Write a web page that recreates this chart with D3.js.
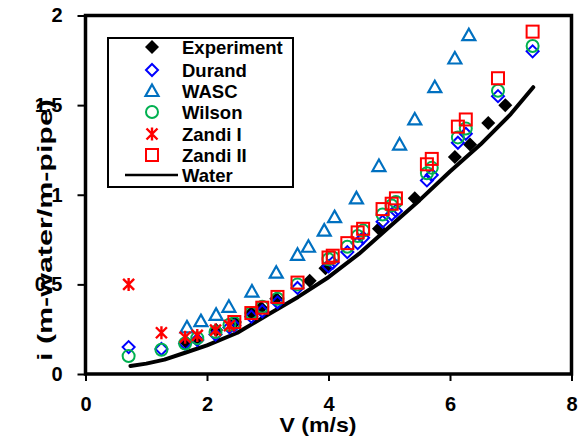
<!DOCTYPE html>
<html><head><meta charset="utf-8">
<script src="https://cdn.jsdelivr.net/npm/d3@7"></script>
<style>
body{margin:0;background:#fff;}
svg text{font-family:"Liberation Sans",Arial,sans-serif;font-weight:bold;fill:#000;}
</style></head>
<body><svg id="c" width="579" height="445"></svg>
<script>
// ---- data ----
const xTicks = [0, 2, 4, 6, 8];
const yTicks = [0, 0.5, 1, 1.5, 2];

const expV = [1.65, 1.84, 2.15, 2.46, 2.73, 2.89, 3.14, 3.69, 3.95, 4.83, 5.42, 6.08, 6.33, 6.63, 6.91];
const expI = [0.18, 0.19, 0.245, 0.29, 0.34, 0.37, 0.42, 0.52, 0.59, 0.81, 0.98, 1.21, 1.28, 1.40, 1.50];

const modelV = [0.71, 1.25, 1.64, 1.84, 2.14, 2.37, 2.45, 2.73, 2.91, 3.16, 3.49, 4.0, 4.07, 4.31, 4.48, 4.57, 4.89, 5.04, 5.11, 5.62, 5.70, 6.13, 6.26, 6.79, 7.36];
const durandI = [0.15, 0.14, 0.17, 0.19, 0.22, 0.26, 0.27, 0.32, 0.35, 0.40, 0.48, 0.60, 0.62, 0.68, 0.73, 0.76, 0.85, 0.89, 0.91, 1.08, 1.11, 1.29, 1.34, 1.55, 1.80];
const wilsonI = [0.10, 0.135, 0.17, 0.20, 0.235, 0.275, 0.285, 0.34, 0.375, 0.42, 0.50, 0.64, 0.65, 0.71, 0.77, 0.80, 0.89, 0.94, 0.96, 1.12, 1.15, 1.32, 1.37, 1.58, 1.83];

const wascV = [1.67, 1.9, 2.15, 2.36, 2.74, 3.14, 3.49, 3.67, 3.93, 4.1, 4.46, 4.83, 5.17, 5.42, 5.75, 6.08, 6.31];
const wascI = [0.26, 0.295, 0.33, 0.375, 0.46, 0.565, 0.665, 0.71, 0.80, 0.875, 0.98, 1.16, 1.28, 1.42, 1.60, 1.76, 1.89];

const zandi1V = [0.71, 1.25, 1.64, 1.84, 2.14, 2.37];
const zandi1I = [0.50, 0.23, 0.205, 0.215, 0.245, 0.27];

const zandi2V = [2.45, 2.73, 2.91, 3.16, 3.49, 4.0, 4.07, 4.31, 4.48, 4.57, 4.89, 5.04, 5.11, 5.62, 5.70, 6.13, 6.26, 6.79, 7.36];
const zandi2I = [0.29, 0.34, 0.37, 0.43, 0.51, 0.65, 0.66, 0.73, 0.79, 0.81, 0.92, 0.95, 0.98, 1.17, 1.20, 1.38, 1.42, 1.65, 1.91];

const waterV = [0.74, 1.0, 1.3, 1.65, 2.0, 2.5, 3.0, 3.5, 4.0, 4.5, 5.0, 5.5, 6.0, 6.5, 7.0, 7.37];
const waterI = [0.045, 0.058, 0.08, 0.12, 0.16, 0.23, 0.33, 0.43, 0.54, 0.67, 0.82, 0.97, 1.13, 1.28, 1.45, 1.60];

const legendLabels = ["Experiment", "Durand", "WASC", "Wilson", "Zandi I", "Zandi II", "Water"];

// ---- chart ----
const svg = d3.select("#c");
const L = 85.5, R = 571.5, T = 15.5, B = 374;
const x = d3.scaleLinear().domain([0, 8]).range([L, R]);
const y = d3.scaleLinear().domain([0, 2]).range([B, T]);

const zip = (a, b) => a.map((v, i) => [v, b[i]]);

// symbols
const sym = {
  exp: g => g.append("path").attr("d", "M0,-7L7,0L0,7L-7,0Z").attr("fill", "#000"),
  durand: g => g.append("path").attr("d", "M0,-6L6,0L0,6L-6,0Z").attr("fill", "none").attr("stroke", "#0000FF").attr("stroke-width", 2),
  wasc: g => g.append("path").attr("d", "M0,-6.5L6.5,5L-6.5,5Z").attr("fill", "none").attr("stroke", "#0070C0").attr("stroke-width", 2.2),
  wilson: g => g.append("circle").attr("r", 6).attr("fill", "none").attr("stroke", "#00B050").attr("stroke-width", 2),
  zandi1: g => g.append("path").attr("d", "M-5.5,-5.5L5.5,5.5M5.5,-5.5L-5.5,5.5M0,-6.5L0,6.5").attr("fill", "none").attr("stroke", "#FF0000").attr("stroke-width", 2.4),
  zandi2: g => g.append("rect").attr("x", -6).attr("y", -6).attr("width", 12).attr("height", 12).attr("fill", "none").attr("stroke", "#FF0000").attr("stroke-width", 2)
};

function drawSeries(data, key) {
  const g = svg.append("g");
  data.forEach(d => {
    const m = g.append("g").attr("transform", `translate(${x(d[0])},${y(d[1])})`);
    sym[key](m);
  });
}

// water line
svg.append("path").datum(zip(waterV, waterI))
  .attr("fill", "none").attr("stroke", "#000").attr("stroke-width", 4)
  .attr("stroke-linejoin", "round").attr("stroke-linecap", "round")
  .attr("d", d3.line().x(d => x(d[0])).y(d => y(d[1])));

drawSeries(zip(expV, expI), "exp");
drawSeries(zip(modelV, durandI), "durand");
drawSeries(zip(wascV, wascI), "wasc");
drawSeries(zip(modelV, wilsonI), "wilson");
drawSeries(zip(zandi1V, zandi1I), "zandi1");
drawSeries(zip(zandi2V, zandi2I), "zandi2");

// axes
const ax = svg.append("g").attr("transform", `translate(0,${B})`)
  .call(d3.axisBottom(x).tickValues(xTicks).tickFormat(d3.format("")).tickSize(7).tickPadding(16));
const ay = svg.append("g").attr("transform", `translate(${L},0)`)
  .call(d3.axisLeft(y).tickValues(yTicks).tickFormat(d3.format("")).tickSize(8).tickPadding(15));
[ax, ay].forEach(a => {
  a.select(".domain").remove();
  a.selectAll("line").attr("stroke", "#000").attr("stroke-width", 2);
  a.selectAll("text").style("font-size", "20px").style("font-family", "'Liberation Sans',Arial,sans-serif").style("font-weight", "bold").attr("fill", "#000");
});

// frame
svg.append("rect").attr("x", L).attr("y", T).attr("width", R - L).attr("height", B - T)
  .attr("fill", "none").attr("stroke", "#000").attr("stroke-width", 3.5);

// axis titles
svg.append("text").attr("x", 318).attr("y", 432).attr("text-anchor", "middle")
  .attr("textLength", 77).attr("lengthAdjust", "spacingAndGlyphs")
  .style("font-size", "21px").text("V (m/s)");
svg.append("text").attr("transform", "translate(52,230) rotate(-90)").attr("text-anchor", "middle")
  .attr("textLength", 262).attr("lengthAdjust", "spacingAndGlyphs")
  .style("font-size", "21px").text("i (m-water/m-pipe)");

// legend
const lg = svg.append("g");
lg.append("rect").attr("x", 108).attr("y", 38).attr("width", 185).attr("height", 149)
  .attr("fill", "#fff").attr("stroke", "#000").attr("stroke-width", 2);
const keys = ["exp", "durand", "wasc", "wilson", "zandi1", "zandi2", "water"];
const ly = [47, 70, 91, 112, 134, 155, 175];
keys.forEach((k, i) => {
  if (k === "water") {
    lg.append("line").attr("x1", 125).attr("x2", 178).attr("y1", ly[i]).attr("y2", ly[i])
      .attr("stroke", "#000").attr("stroke-width", 2.5);
  } else {
    const m = lg.append("g").attr("transform", `translate(152,${ly[i]})`);
    sym[k](m);
  }
  lg.append("text").attr("x", 182).attr("y", ly[i]).attr("dy", "0.36em")
    .style("font-size", "18.5px").text(legendLabels[i]);
});
</script></body></html>
